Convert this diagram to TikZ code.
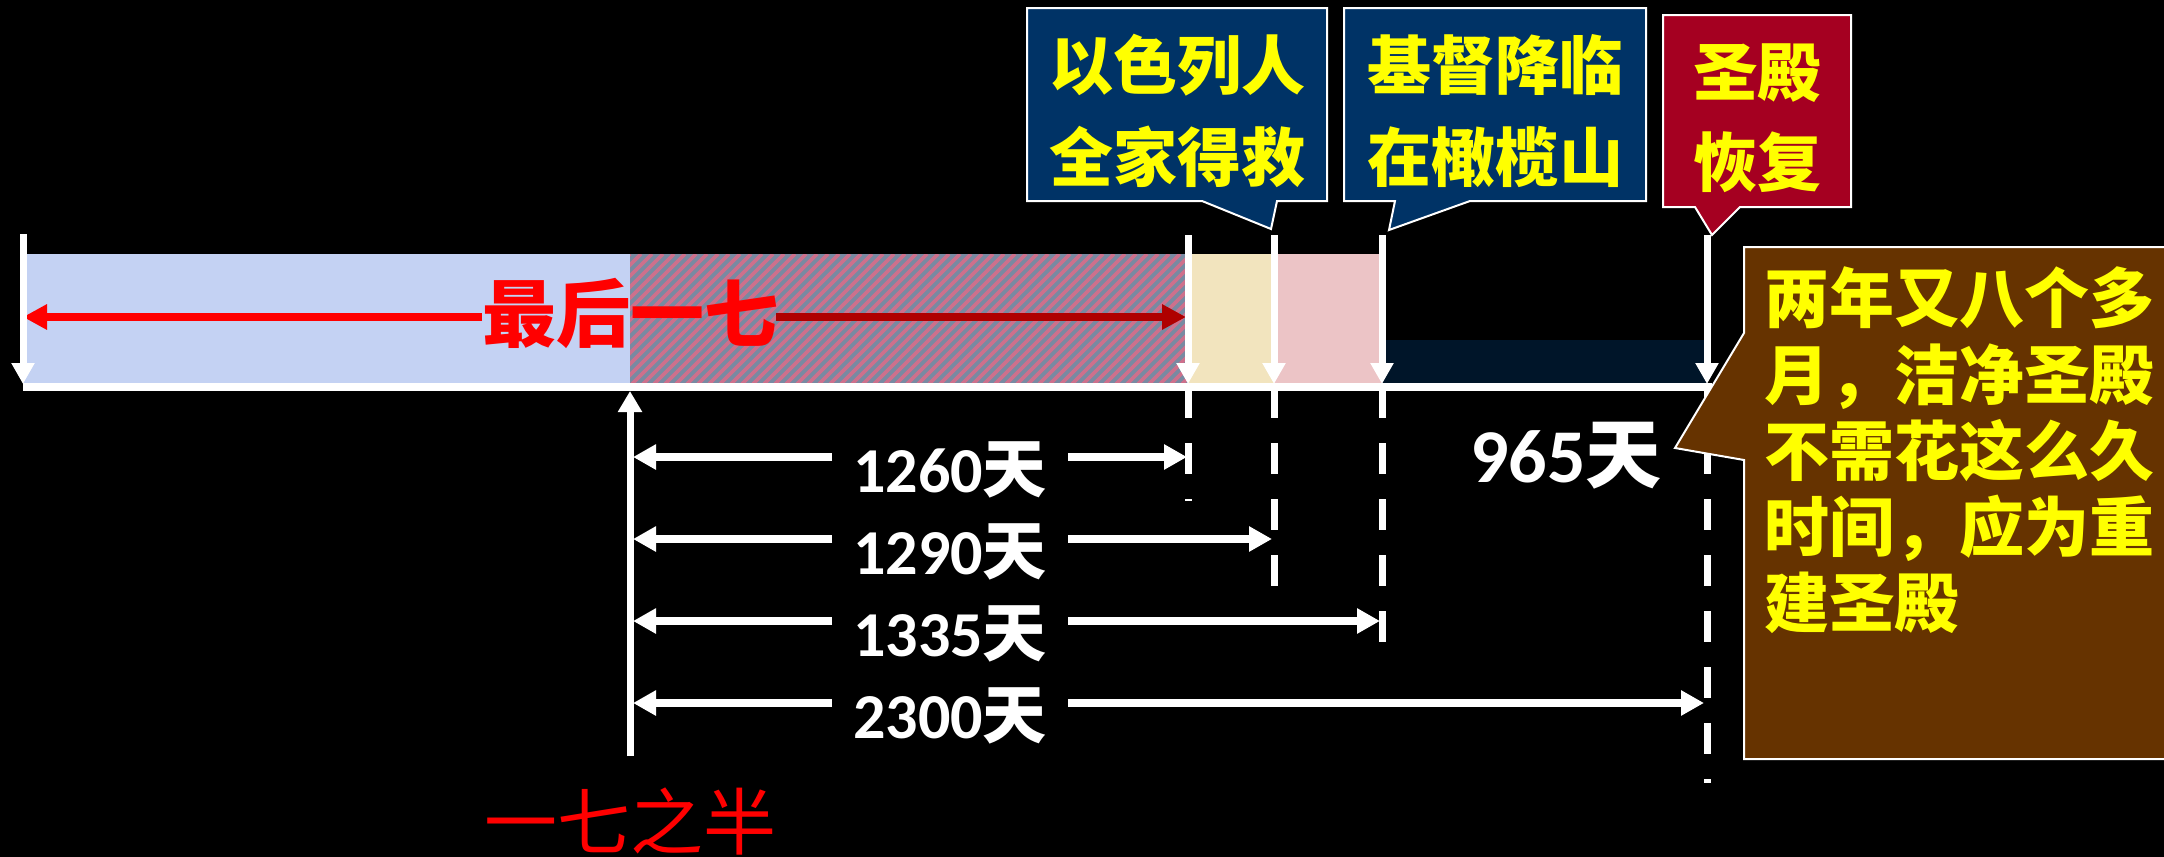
\documentclass[tikz,border=0pt]{standalone}
\usepackage{fontspec}
\newfontfamily\cjk{Noto Sans CJK SC}
\newfontfamily\carl{Carlito}
\usetikzlibrary{arrows.meta}
\definecolor{navybox}{RGB}{0,51,102}
\definecolor{redbox}{RGB}{165,0,33}
\definecolor{brownbox}{RGB}{102,51,0}
\definecolor{lightblue}{RGB}{196,210,243}
\definecolor{hatchbase}{RGB}{120,138,162}
\definecolor{hatchline}{RGB}{205,112,140}
\definecolor{beige}{RGB}{242,228,190}
\definecolor{pinkish}{RGB}{236,196,198}
\definecolor{darknavy}{RGB}{0,21,41}
\definecolor{darkred}{RGB}{175,0,0}
\definecolor{cyellow}{RGB}{255,255,0}
\tikzset{
  callout/.style={draw=white, line width=2pt, line join=miter},
  downarr/.style={white, line width=7pt, -{Triangle[length=21pt,width=22pt]}},
  dimarr/.style={white, line width=8pt, -{Triangle[length=23pt,width=24pt]}},
  dashv/.style={white, line width=7pt, dash pattern=on 31pt off 25pt},
  boxtext/.style={text=cyellow, font=\cjk\bfseries\fontsize{64}{92}\selectfont, align=center, inner sep=0pt},
  daylabel/.style={text=white, font=\fontsize{64}{70}\selectfont, anchor=base, inner sep=0pt},
  stripe/.style={hatchline, line width=3.8pt},
}
\newcommand{\dayl}[1]{{\carl\bfseries #1}{\cjk\bfseries 天}}
\begin{document}
\begin{tikzpicture}[x=1pt,y=-1pt]
\fill[black] (0,0) rectangle (2164,857);
\useasboundingbox (0,0) rectangle (2164,857);

% coordinates of the time line
\coordinate (L0) at (23,387);
\coordinate (A) at (1188,387);
\coordinate (B) at (1274,387);
\coordinate (C) at (1382,387);
\coordinate (D) at (1707,387);
\coordinate (E) at (1712,387);

% coloured bands
\fill[lightblue] (23,254) rectangle (630,384);
\fill[hatchbase] (630,254) rectangle (1188,384);
\begin{scope}
  \clip (630,254) rectangle (1188,384);
  \foreach \x in {500,511,...,1200}{
    \draw[stripe] (\x,384) -- (\x+130,254);
  }
\end{scope}
\fill[beige] (1188,254) rectangle (1274,384);
\fill[pinkish] (1274,254) rectangle (1382,384);
\fill[darknavy] (1382,340) rectangle (1707,384);

% red arrows and text
\node[text=red, font=\cjk\bfseries\fontsize{74}{80}\selectfont, inner sep=0pt] (last) at (630,313) {最后一七};
\coordinate (ra1) at (482,317);
\coordinate (ra2) at (776,317);
\draw[red, line width=8pt, -{Triangle[length=24pt,width=24pt]}] (ra1) -- (23,317);
\draw[darkred, line width=8pt, -{Triangle[length=24pt,width=24pt]}] (ra2) -- (1186,317);

% baseline
\draw[white, line width=8pt] (L0) -- (E);

% vertical arrows down to baseline
\draw[downarr] (23,234) -- (23,384);
\draw[downarr] (1188,235) -- (1188,384);
\draw[downarr] (1274,235) -- (1274,384);
\draw[downarr] (1382,235) -- (1382,384);
\draw[downarr] (1707,235) -- (1707,384);

% mid-week up arrow
\draw[white, line width=7pt, -{Triangle[length=21pt,width=23pt]}] (630,756) -- (630,391);

% dashed lines
\draw[dashv] (A) -- (1188,501);
\draw[dashv] (B) -- (1274,586);
\draw[dashv] (C) -- (1382,642);
\draw[dashv] (D) -- (1707,783);

% dimension arrows
\foreach \y/\xe/\lab in {457/1187/1260, 539/1272/1290, 621/1380/1335, 703/1704/2300}{
  \draw[dimarr] (832,\y) -- (633,\y);
  \draw[dimarr] (1068,\y) -- (\xe,\y);
  \node[daylabel] at (950,\y+35) {\dayl{\lab}};
}
\node[text=white, font=\fontsize{76}{80}\selectfont, anchor=base west, inner sep=0pt] (d965) at (1470,482) {\dayl{965}};

% half week label
\node[text=red, font=\cjk\fontsize{73}{80}\selectfont, inner sep=0pt] (half) at (630,821) {一七之半};

% callouts
\filldraw[callout, fill=navybox] (1027,8) -- (1327,8) -- (1327,201) -- (1277,201) -- (1271,229) -- (1202,201) -- (1027,201) -- cycle;
\node[boxtext] (c1) at (1177,111) {以色列人\\全家得救};
\filldraw[callout, fill=navybox] (1344,8) -- (1646,8) -- (1646,201) -- (1470,201) -- (1389,230) -- (1395,201) -- (1344,201) -- cycle;
\node[boxtext] (c2) at (1495,111) {基督降临\\在橄榄山};
\filldraw[callout, fill=redbox] (1663,15) -- (1851,15) -- (1851,207) -- (1740,207) -- (1712,235) -- (1695,207) -- (1663,207) -- cycle;
\node[boxtext, font=\cjk\bfseries\fontsize{64}{90}\selectfont] (c3) at (1757,118) {圣殿\\恢复};

% brown note
\filldraw[callout, fill=brownbox] (1744,247) -- (2175,247) -- (2175,759) -- (1744,759) -- (1744,460) -- (1675,448) -- (1744,333) -- cycle;
\node[text=cyellow, font=\cjk\bfseries\fontsize{65}{76.3}\selectfont, align=left, anchor=west, inner sep=0pt] (note) at (1764,450.5) {两年又八个多\\月，洁净圣殿\\不需花这么久\\时间，应为重\\建圣殿};
\end{tikzpicture}
\end{document}
